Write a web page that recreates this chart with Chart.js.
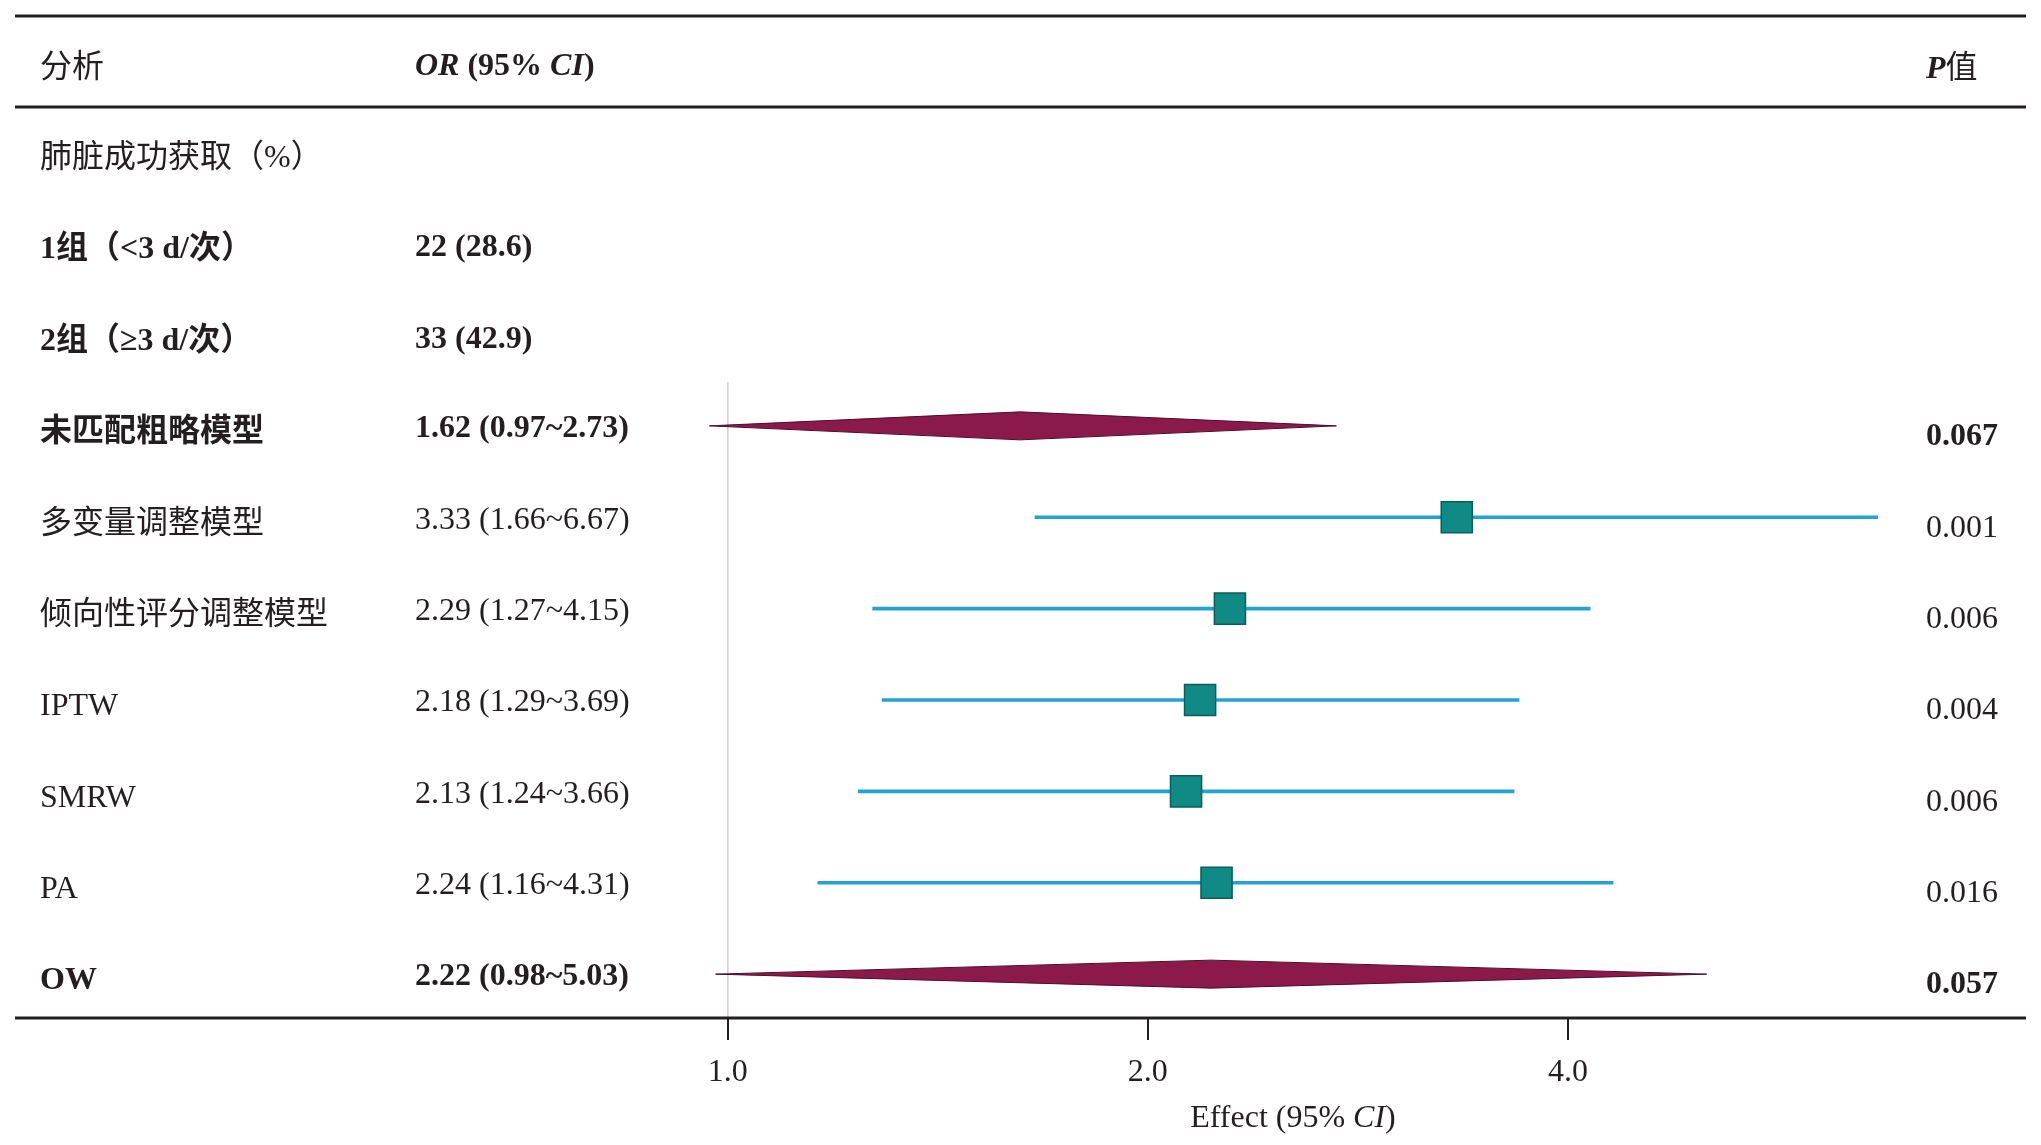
<!DOCTYPE html>
<html lang="zh">
<head>
<meta charset="utf-8">
<title>森林图</title>
<script src="https://cdn.jsdelivr.net/npm/chart.js@4.4.1/dist/chart.umd.min.js"></script>
<style>
  html, body { margin: 0; padding: 0; background: #fff; }
  #wrap { width: 2041px; height: 1145px; position: relative; }
</style>
</head>
<body>
<div id="wrap"><canvas id="forest"></canvas></div>
<script>
// ============ DADOS ============
const rowLabels = [
  "肺脏成功获取（%）",
  "1组（<3 d/次）",
  "2组（≥3 d/次）",
  "未匹配粗略模型",
  "多变量调整模型",
  "倾向性评分调整模型",
  "IPTW",
  "SMRW",
  "PA",
  "OW"
];
const groupN = [22, 33];
const groupPct = [28.6, 42.9];

// modelos (linhas 3..9)
const estimates = [1.62, 3.33, 2.29, 2.18, 2.13, 2.24, 2.22];
const lowerCI = [0.97, 1.66, 1.27, 1.29, 1.24, 1.16, 0.98];
const upperCI = [2.73, 6.67, 4.15, 3.69, 3.66, 4.31, 5.03];
const pValues = [0.067, 0.001, 0.006, 0.004, 0.006, 0.016, 0.057];
const pooled = [true, false, false, false, false, false, true]; // losango
const xTicks = [1, 2, 4];

const FIRST_MODEL_ROW = 3;
const boldRows = [1, 2, 3, 9];

// ============ ESTILO ============
const FONT = '"Liberation Serif", "Noto Sans CJK SC", serif';
const INK = "#231f20";
const font = (style, size) => `${style} ${size}px ${FONT}`;

// ============ DATASETS ============
const ciData = [];
const pointData = [];
estimates.forEach((e, i) => {
  if (pooled[i]) return;
  ciData.push({ y: FIRST_MODEL_ROW + i, x: [lowerCI[i], upperCI[i]] });
  pointData.push({ x: e, y: FIRST_MODEL_ROW + i });
});

function drawRuns(ctx, x, y, runs) {
  runs.forEach((r) => {
    ctx.font = font(r.s, r.size || 32);
    ctx.fillText(r.t, x, y);
    x += ctx.measureText(r.t).width;
  });
}

// linha de referência (OR = 1)
const refLine = {
  id: "refLine",
  beforeDatasetsDraw(chart) {
    const { ctx, chartArea, scales: { x } } = chart;
    const px = x.getPixelForValue(1);
    ctx.save();
    ctx.strokeStyle = "#cfcfcf";
    ctx.lineWidth = 1.5;
    ctx.beginPath();
    ctx.moveTo(px, chartArea.top);
    ctx.lineTo(px, chartArea.bottom);
    ctx.stroke();
    ctx.restore();
  }
};

// losangos dos modelos combinados
const diamonds = {
  id: "diamonds",
  afterDatasetsDraw(chart) {
    const { ctx, scales: { x, y } } = chart;
    ctx.save();
    estimates.forEach((e, i) => {
      if (!pooled[i]) return;
      const yc = y.getPixelForValue(FIRST_MODEL_ROW + i);
      const xl = x.getPixelForValue(lowerCI[i]);
      const xc = x.getPixelForValue(e);
      const xr = x.getPixelForValue(upperCI[i]);
      const h = 14;
      ctx.beginPath();
      ctx.moveTo(xl, yc);
      ctx.lineTo(xc, yc - h);
      ctx.lineTo(xr, yc);
      ctx.lineTo(xc, yc + h);
      ctx.closePath();
      ctx.fillStyle = "#8b1a4b";
      ctx.fill();
      ctx.strokeStyle = "#4f0d2b";
      ctx.lineWidth = 1;
      ctx.stroke();
    });
    ctx.restore();
  }
};

// tabela: textos e linhas horizontais
const tableText = {
  id: "tableText",
  afterDraw(chart) {
    const { ctx, chartArea, scales: { x, y } } = chart;
    ctx.save();
    ctx.fillStyle = INK;
    ctx.textBaseline = "middle";
    ctx.textAlign = "left";

    // linhas
    ctx.strokeStyle = INK;
    ctx.lineWidth = 3;
    [16, 107, chartArea.bottom].forEach((ly) => {
      ctx.beginPath();
      ctx.moveTo(15, ly);
      ctx.lineTo(2026, ly);
      ctx.stroke();
    });

    // cabeçalho
    drawRuns(ctx, 40, 69, [{ t: "分析", s: "normal" }]);
    drawRuns(ctx, 415, 67, [
      { t: "OR", s: "italic bold" },
      { t: " (95% ", s: "bold" },
      { t: "CI", s: "italic bold" },
      { t: ")", s: "bold" }
    ]);
    drawRuns(ctx, 1926, 70, [
      { t: "P", s: "italic bold" },
      { t: "值", s: "normal" }
    ]);

    // linhas da tabela
    rowLabels.forEach((label, r) => {
      const yc = y.getPixelForValue(r) + 7;
      const st = boldRows.includes(r) ? "bold" : "normal";
      drawRuns(ctx, 40, yc, [{ t: label, s: st }]);
      if (r >= 1 && r <= 2) {
        const k = r - 1;
        drawRuns(ctx, 415, yc - 2, [{ t: `${groupN[k]} (${groupPct[k].toFixed(1)})`, s: "bold" }]);
      }
    });
    estimates.forEach((e, i) => {
      const r = FIRST_MODEL_ROW + i;
      const yc = y.getPixelForValue(r);
      const st = pooled[i] ? "bold" : "normal";
      drawRuns(ctx, 415, yc + 3, [
        { t: `${e.toFixed(2)} (${lowerCI[i].toFixed(2)}~${upperCI[i].toFixed(2)})`, s: st }
      ]);
      drawRuns(ctx, 1926, yc + 11, [{ t: pValues[i].toFixed(3), s: st }]);
    });

    // título do eixo
    const runs = [
      { t: "Effect (95% ", s: "normal" },
      { t: "CI", s: "italic" },
      { t: ")", s: "normal" }
    ];
    let w = 0;
    runs.forEach((r) => { ctx.font = font(r.s, 32); w += ctx.measureText(r.t).width; });
    drawRuns(ctx, 1293 - w / 2, 1119, runs);
    ctx.restore();
  }
};

// ============ GRÁFICO ============
new Chart(document.getElementById("forest"), {
  type: "scatter",
  data: {
    datasets: [
      {
        type: "bar",
        indexAxis: "y",
        data: ciData,
        backgroundColor: "#22a3d3",
        borderWidth: 0,
        barThickness: 3,
        grouped: false,
        order: 2
      },
      {
        type: "scatter",
        data: pointData,
        pointStyle: "rect",
        pointRadius: 22,
        backgroundColor: "#0f8a84",
        borderColor: "#0b5e59",
        borderWidth: 1.5,
        order: 1
      }
    ]
  },
  options: {
    responsive: true,
    maintainAspectRatio: false,
    animation: false,
    events: [],
    layout: { padding: { top: 382, left: 664, right: 134, bottom: 0 } },
    plugins: { legend: { display: false }, tooltip: { enabled: false } },
    scales: {
      x: {
        type: "logarithmic",
        min: 0.9,
        max: 7,
        offset: false,
        afterBuildTicks: (s) => { s.ticks = xTicks.map((v) => ({ value: v })); },
        afterFit: (s) => { s.height = 127; },
        border: { display: false },
        grid: { drawOnChartArea: false, drawTicks: true, tickLength: 22, color: INK, lineWidth: 2 },
        ticks: {
          autoSkip: false,
          maxRotation: 0,
          padding: 13,
          color: INK,
          font: { family: FONT, size: 32 },
          callback: (v) => Number(v).toFixed(1)
        }
      },
      y: {
        type: "linear",
        reverse: true,
        min: 2.52,
        max: 9.48,
        offset: false,
        display: false
      }
    }
  },
  plugins: [refLine, diamonds, tableText]
});
</script>
</body>
</html>
